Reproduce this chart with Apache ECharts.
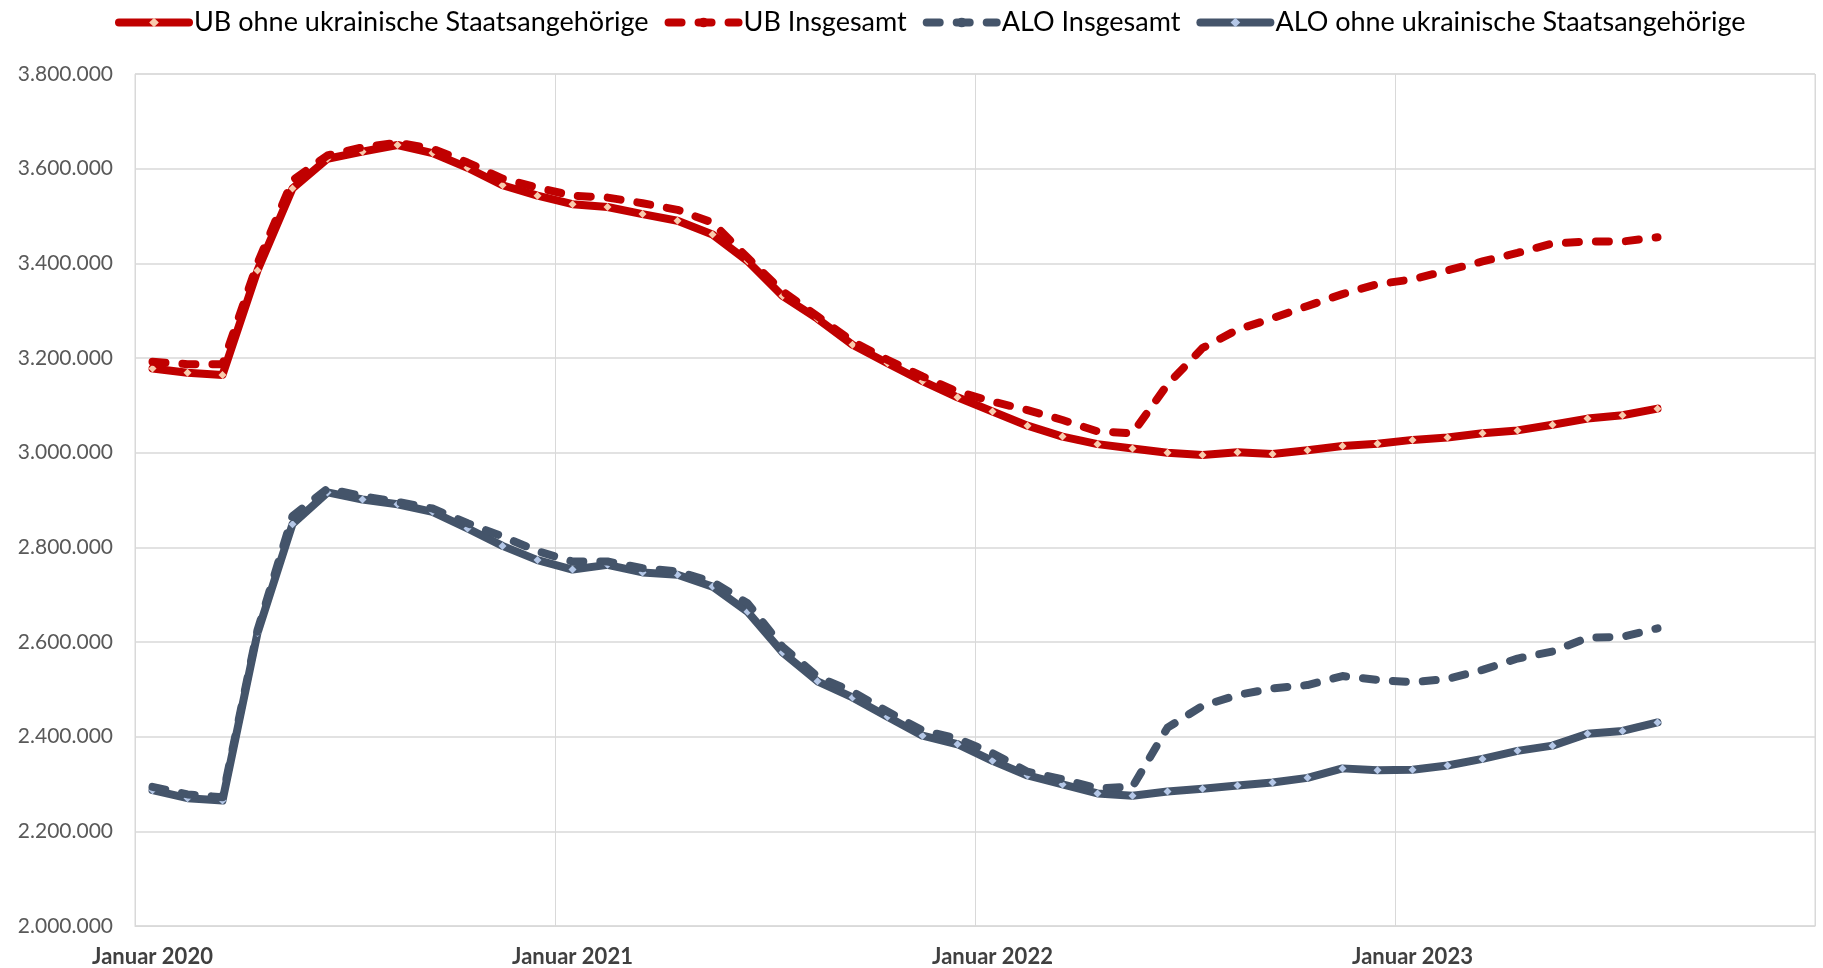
<!DOCTYPE html>
<html>
<head>
<meta charset="utf-8">
<script src="https://cdn.jsdelivr.net/npm/echarts@6/dist/echarts.min.js"></script>
<style>
html,body{margin:0;padding:0;background:#fff;}
#chart{width:1823px;height:968px;}
</style>
</head>
<body>
<div id="chart"></div>
<script>
const categories = [
  "Januar 2020","Februar 2020","März 2020","April 2020","Mai 2020","Juni 2020","Juli 2020","August 2020","September 2020","Oktober 2020","November 2020","Dezember 2020",
  "Januar 2021","Februar 2021","März 2021","April 2021","Mai 2021","Juni 2021","Juli 2021","August 2021","September 2021","Oktober 2021","November 2021","Dezember 2021",
  "Januar 2022","Februar 2022","März 2022","April 2022","Mai 2022","Juni 2022","Juli 2022","August 2022","September 2022","Oktober 2022","November 2022","Dezember 2022",
  "Januar 2023","Februar 2023","März 2023","April 2023","Mai 2023","Juni 2023","Juli 2023","August 2023","September 2023","Oktober 2023","November 2023","Dezember 2023"
];

const seriesNames = ["UB ohne ukrainische Staatsangehörige","UB Insgesamt","ALO Insgesamt","ALO ohne ukrainische Staatsangehörige"];

const ubOhne = [3178000,3169000,3164000,3385000,3558000,3621000,3636000,3650000,3633000,3602000,3565000,3543000,
  3525000,3519000,3504000,3490000,3461000,3405000,3331000,3283000,3228000,3189000,3151000,3117000,
  3087000,3057000,3034000,3018000,3009000,3000000,2995000,3001000,2997000,3005000,3014000,3019000,
  3027000,3032000,3041000,3047000,3059000,3072000,3079000,3093000];

const ubInsgesamt = [3192000,3187000,3187000,3400000,3575000,3628000,3645000,3655000,3642000,3613000,3579000,3560000,
  3543000,3539000,3527000,3513000,3486000,3412000,3341000,3288000,3235000,3196000,3161000,3129000,
  3108000,3090000,3069000,3045000,3041000,3144000,3221000,3260000,3284000,3310000,3335000,3356000,
  3366000,3385000,3404000,3422000,3442000,3446000,3446000,3455000];

const aloInsgesamt = [2294000,2278000,2272000,2625000,2866000,2924000,2908000,2896000,2882000,2851000,2823000,2792000,
  2770000,2770000,2756000,2749000,2727000,2682000,2590000,2527000,2495000,2453000,2413000,2396000,
  2365000,2326000,2310000,2291000,2294000,2419000,2465000,2488000,2502000,2509000,2528000,2520000,
  2515000,2522000,2541000,2565000,2580000,2609000,2611000,2629000];

const aloOhne = [2287000,2270000,2265000,2619000,2849000,2916000,2901000,2891000,2875000,2840000,2803000,2773000,
  2753000,2763000,2747000,2742000,2717000,2664000,2578000,2517000,2483000,2442000,2402000,2384000,
  2349000,2318000,2299000,2280000,2275000,2284000,2290000,2297000,2303000,2313000,2333000,2329000,
  2330000,2339000,2353000,2370000,2381000,2406000,2412000,2430000];

const yMin = 2000000, yMax = 3800000, yStep = 200000;

const RED = '#C00000', BLUE = '#44546A';
const FONT = 'Lato';

function de(v){ return String(Math.round(v)).replace(/\B(?=(\d{3})+(?!\d))/g, '.'); }

function solid(name, data, color, markColor){
  return {
    name, type:'line', data, smooth:false,
    symbol:'diamond', symbolSize:8, showSymbol:true,
    lineStyle:{color, width:8, cap:'round', join:'round'},
    itemStyle:{color:markColor, borderWidth:0},
    emphasis:{disabled:true}, z:2
  };
}
function dashed(name, data, color){
  return {
    name, type:'line', data, smooth:false,
    symbol:'circle', symbolSize:1, showSymbol:false,
    lineStyle:{color, width:8, type:[13,17], cap:'round', join:'round'},
    itemStyle:{color},
    emphasis:{disabled:true}, z:3
  };
}

const chart = echarts.init(document.getElementById('chart'), null, {renderer:'canvas'});
chart.setOption({
  animation:false,
  textStyle:{fontFamily:FONT},
  legend:{
    top:4, left:110, itemWidth:70, itemHeight:12, itemGap:16,
    lineStyle:{width:8, cap:'round'},
    textStyle:{fontFamily:FONT, fontSize:27, color:'#000'},
    data:seriesNames
  },
  grid:{left:135, right:8, top:74, bottom:42, show:true, borderColor:'#d9d9d9', borderWidth:1},
  xAxis:{
    type:'category', data:categories, boundaryGap:true,
    axisLine:{show:true, lineStyle:{color:'#d9d9d9', width:1}},
    axisTick:{show:false},
    axisLabel:{interval:11, fontFamily:FONT, fontSize:22, fontWeight:'bold', color:'#404040', margin:20},
    splitLine:{show:true, interval:11, lineStyle:{color:'#d9d9d9', width:1}}
  },
  yAxis:{
    type:'value', min:yMin, max:yMax, interval:yStep,
    axisLine:{show:false}, axisTick:{show:false},
    axisLabel:{formatter:de, fontFamily:FONT, fontSize:21, color:'#595959', margin:22},
    splitLine:{show:true, lineStyle:{color:'#d9d9d9', width:1.5}}
  },
  series:[
    solid(seriesNames[0], ubOhne, RED, '#F8CBAD'),
    dashed(seriesNames[1], ubInsgesamt, RED),
    dashed(seriesNames[2], aloInsgesamt, BLUE),
    solid(seriesNames[3], aloOhne, BLUE, '#B4C7E7')
  ]
});
</script>
</body>
</html>
